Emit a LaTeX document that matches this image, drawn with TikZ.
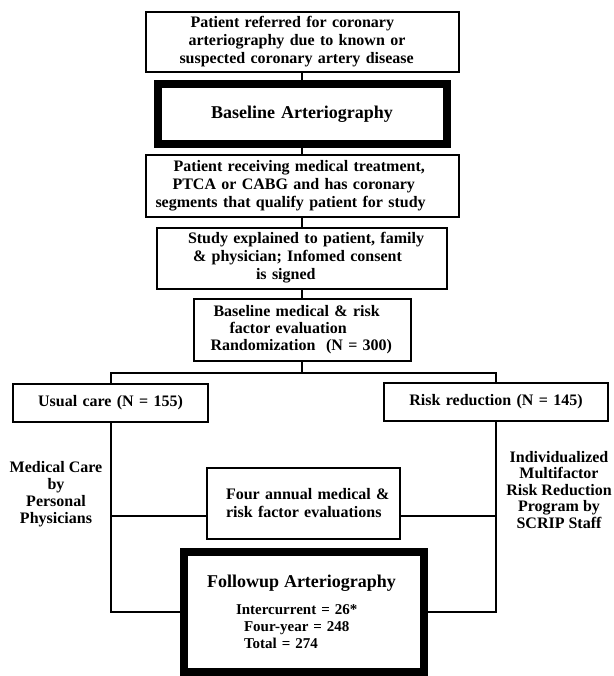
\documentclass[tikz,border=0pt]{standalone}
\usepackage{fontspec}
\setmainfont{Liberation Serif}

\begin{document}
\begin{tikzpicture}[x=1pt,y=-1pt,line width=2pt,node distance=72pt,
                    font=\bfseries\fontsize{16}{18}\selectfont,
                    box/.style={draw,rectangle,inner sep=0pt,align=left},
                    thickbox/.style={draw,rectangle,inner sep=0pt,line width=8pt,align=center}]
                \useasboundingbox (0,0) rectangle (613,676);

                \node[box,text width=313pt,minimum height=60pt] (refer) at (302,42)
                    {\hspace*{45pt}Patient referred for coronary\\
                     \hspace*{43pt}arteriography due to known or\\
                     \hspace*{34pt}suspected coronary artery disease};
                \node[thickbox,text width=289pt,minimum height=60pt,
                      font=\bfseries\fontsize{18}{20}\selectfont] (base) [below of = refer]
                    {Baseline Arteriography\\[3pt]};
                \node[box,text width=313pt,minimum height=62pt] (qualify) [below of = base]
                    {\hspace*{28pt}Patient receiving medical treatment,\\
                     \hspace*{27pt}PTCA or CABG and has coronary\\
                     \hspace*{10pt}segments that qualify patient for study};
                \node[box,text width=290pt,minimum height=61pt] (consent) [below of = qualify]
                    {\hspace*{31pt}Study explained to patient, family\\
                     \hspace*{36pt}\& physician; Infomed consent\\
                     \hspace*{99pt}is signed};
                \node[box,text width=217pt,minimum height=62pt,
                      font=\bfseries\fontsize{16}{17}\selectfont] (rand) [below of = consent]
                    {\hspace*{20pt}Baseline medical \& risk\\
                     \hspace*{36pt}factor evaluation\\
                     \hspace*{17pt}Randomization~~(N = 300)};

                \node[box,text width=195pt,minimum height=38pt,align=center] (usual) at (110.5,403)
                    {Usual care (N = 155)};
                \node[box,text width=224pt,minimum height=38pt,align=center] (risk) at (496,402)
                    {Risk reduction (N = 145)};
                \node[box,text width=193pt,minimum height=71pt] (annual) at (303.5,503.5)
                    {\hspace*{19pt}Four annual medical \&\\
                     \hspace*{19pt}risk factor evaluations};
                \node[thickbox,text width=240pt,minimum height=120pt,align=left,
                      font=\bfseries\fontsize{15}{17}\selectfont] (follow) at (304,612)
                    {\hspace*{23pt}{\fontsize{18}{20}\selectfont Followup Arteriography}\\[10pt]
                     \hspace*{52pt}Intercurrent = 26*\\
                     \hspace*{60pt}Four-year = 248\\
                     \hspace*{60pt}Total = 274};

                \node[align=center,font=\bfseries\fontsize{16}{17}\selectfont] (medcare) at (56,494)
                    {Medical Care\\by\\Personal\\Physicians};
                \node[align=center,font=\bfseries\fontsize{16}{16.5}\selectfont] (riskprog) at (559,490)
                    {Individualized\\Multifactor\\Risk Reduction\\Program by\\SCRIP Staff};

                \coordinate (split) at (302,373);
                \coordinate (annW) at ([yshift=-12.5pt]annual.west);
                \coordinate (annE) at ([yshift=-12.5pt]annual.east);

                \path
                (refer) edge (base)
                (base) edge (qualify)
                (qualify) edge (consent)
                (consent) edge (rand)
                (rand) edge (split)
                (annW) edge (annW -| usual)
                (annE) edge (annE -| risk)
                ;
                \draw (usual) |- (split) -| (risk);
                \draw (usual) |- (follow);
                \draw (risk) |- (follow);
\end{tikzpicture}
\end{document}
